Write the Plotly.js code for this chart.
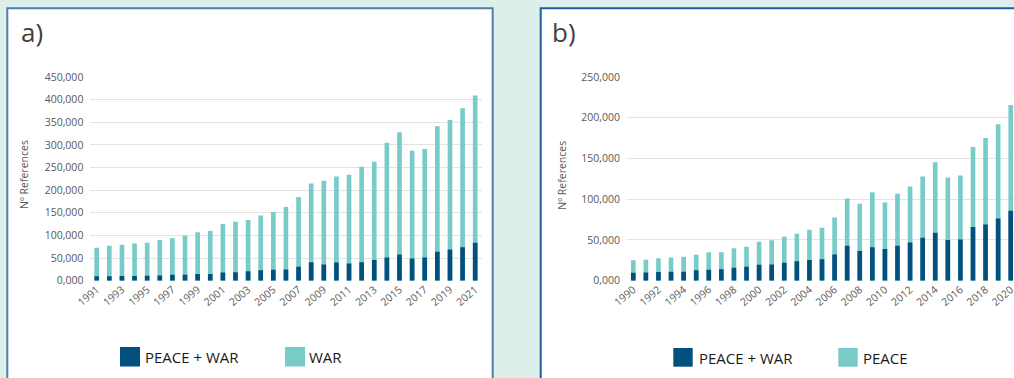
<!DOCTYPE html>
<html>
<head>
<meta charset="utf-8">
<script src="https://cdn.plot.ly/plotly-3.0.1.min.js"></script>
<style>
html,body{margin:0;padding:0;background:#dcefeb;overflow:hidden;}
#chart{width:1014px;height:378px;}
</style>
</head>
<body>
<div id="chart"></div>
<script>
// ---- Panel a) data ----
var yearsA = ["1991","1992","1993","1994","1995","1996","1997","1998","1999","2000","2001","2002","2003","2004","2005","2006","2007","2008","2009","2010","2011","2012","2013","2014","2015","2016","2017","2018","2019","2020","2021"];
var warTotalA = [73000,77000,79500,82000,84000,90000,94000,100000,107000,110000,125000,130000,134000,144000,152000,163000,185000,215000,221000,230000,234000,252000,263000,305000,328000,287000,291000,341000,355000,381000,409000];
var peaceWarA = [10000,10000,10500,10500,11000,11500,13000,13000,15000,15000,18000,18500,21000,23000,24000,25000,31000,41000,36000,40000,38000,41000,46000,51000,58000,49000,51000,64000,69000,74000,84000];
var tickValsA = ["1991","1993","1995","1997","1999","2001","2003","2005","2007","2009","2011","2013","2015","2017","2019","2021"];
var yTickValsA = [0,50000,100000,150000,200000,250000,300000,350000,400000,450000];
var yTickTextA = ["0,000","50,000","100,000","150,000","200,000","250,000","300,000","350,000","400,000","450,000"];

// ---- Panel b) data ----
var yearsB = ["1990","1991","1992","1993","1994","1995","1996","1997","1998","1999","2000","2001","2002","2003","2004","2005","2006","2007","2008","2009","2010","2011","2012","2013","2014","2015","2016","2017","2018","2019","2020"];
var peaceTotalB = [25000,25700,27400,28600,29400,31900,34800,34800,39700,41700,47800,49500,54000,57600,62500,65000,77700,101000,94300,108700,96000,106600,115600,128000,145400,126700,129000,164000,175000,192000,215600];
var peaceWarB = [9800,10200,10700,11000,11000,12700,13500,14000,16000,17000,19600,20000,22000,23800,25400,26200,32300,42900,36400,40900,38800,42900,47000,52700,58800,49900,50700,65800,69000,76400,86000];
var tickValsB = ["1990","1992","1994","1996","1998","2000","2002","2004","2006","2008","2010","2012","2014","2016","2018","2020"];
var yTickValsB = [0,50000,100000,150000,200000,250000];
var yTickTextB = ["0,000","50,000","100,000","150,000","200,000","250,000"];

var legendA = ["PEACE + WAR","WAR"];
var legendB = ["PEACE + WAR","PEACE"];

var DARK = "#03507f";
var TEAL = "#79cbc8";
var W = 1014, H = 378;
function px(x){return x/W;}
function py(y){return 1 - y/H;}

var FONT = "Open Sans, Noto Sans, sans-serif";

var traces = [
  {type:"bar", x:yearsA, y:warTotalA, marker:{color:TEAL}, xaxis:"x", yaxis:"y", name:"WAR", hoverinfo:"x+y"},
  {type:"bar", x:yearsA, y:peaceWarA, marker:{color:DARK}, xaxis:"x", yaxis:"y", name:"PEACE + WAR", hoverinfo:"x+y"},
  {type:"bar", x:yearsB, y:peaceTotalB, marker:{color:TEAL}, xaxis:"x2", yaxis:"y2", name:"PEACE", hoverinfo:"x+y"},
  {type:"bar", x:yearsB, y:peaceWarB, marker:{color:DARK}, xaxis:"x2", yaxis:"y2", name:"PEACE + WAR", hoverinfo:"x+y"}
];

var axisY = {
  gridcolor:"#e3e3e3", gridwidth:1, zeroline:false, showline:false, ticks:"",
  tickfont:{family:FONT, size:10.5, color:"#595959"}, ticklabelstandoff:6, fixedrange:true
};
var axisX = {
  type:"category", showgrid:false, zeroline:false, showline:false, ticks:"",
  tickangle:-40, tickfont:{family:FONT, size:10.5, color:"#595959"}, fixedrange:true
};

var yDom = [py(280.7), py(77)];

var layout = {
  width:W, height:H,
  margin:{l:0,r:0,t:0,b:0},
  paper_bgcolor:"#dcefeb",
  plot_bgcolor:"rgba(0,0,0,0)",
  showlegend:false,
  barmode:"overlay",
  bargap:0.63,
  xaxis: Object.assign({}, axisX, {domain:[px(90.4), px(481.5)], range:[-0.5,30.5], anchor:"y", tickmode:"array", tickvals:tickValsA, ticktext:tickValsA}),
  yaxis: Object.assign({}, axisY, {domain:yDom, range:[0,450000], anchor:"x", tickmode:"array", tickvals:yTickValsA, ticktext:yTickTextA}),
  xaxis2: Object.assign({}, axisX, {domain:[px(627), 1], range:[-0.5,30.26], anchor:"y2", tickmode:"array", tickvals:tickValsB, ticktext:tickValsB}),
  yaxis2: Object.assign({}, axisY, {domain:yDom, range:[0,250000], anchor:"x2", tickmode:"array", tickvals:yTickValsB, ticktext:yTickTextB}),
  shapes:[
    {type:"rect", xref:"paper", yref:"paper", layer:"below", x0:px(7.3), x1:px(492.7), y0:py(390), y1:py(8.3), fillcolor:"#ffffff", line:{color:"#4f80ab", width:2}},
    {type:"rect", xref:"paper", yref:"paper", layer:"below", x0:px(540.7), x1:px(1030), y0:py(390), y1:py(8.3), fillcolor:"#ffffff", line:{color:"#1d5f9c", width:2}},
    // legend swatches
    {type:"rect", xref:"paper", yref:"paper", x0:px(120), x1:px(140), y0:py(366.5), y1:py(347), fillcolor:DARK, line:{width:0}},
    {type:"rect", xref:"paper", yref:"paper", x0:px(285), x1:px(305), y0:py(366.5), y1:py(347), fillcolor:TEAL, line:{width:0}},
    {type:"rect", xref:"paper", yref:"paper", x0:px(673.3), x1:px(692.7), y0:py(366.7), y1:py(348), fillcolor:DARK, line:{width:0}},
    {type:"rect", xref:"paper", yref:"paper", x0:px(838.3), x1:px(857.7), y0:py(366.7), y1:py(348), fillcolor:TEAL, line:{width:0}}
  ],
  annotations:[
    {text:"a)", xref:"paper", yref:"paper", x:px(19), y:py(31.5), xanchor:"left", yanchor:"middle", showarrow:false, font:{family:FONT, size:26, color:"#404040"}},
    {text:"b)", xref:"paper", yref:"paper", x:px(550), y:py(31.5), xanchor:"left", yanchor:"middle", showarrow:false, font:{family:FONT, size:26, color:"#404040"}},
    {text:"Nº References", xref:"paper", yref:"paper", x:px(24), y:py(175), xanchor:"center", yanchor:"middle", textangle:-90, showarrow:false, font:{family:FONT, size:10.5, color:"#595959"}},
    {text:"Nº References", xref:"paper", yref:"paper", x:px(561.7), y:py(175), xanchor:"center", yanchor:"middle", textangle:-90, showarrow:false, font:{family:FONT, size:10.5, color:"#595959"}},
    {text:legendA[0], xref:"paper", yref:"paper", x:px(143), y:py(357), xanchor:"left", yanchor:"middle", showarrow:false, font:{family:FONT, size:15, color:"#1a1a1a"}},
    {text:legendA[1], xref:"paper", yref:"paper", x:px(307), y:py(357), xanchor:"left", yanchor:"middle", showarrow:false, font:{family:FONT, size:15, color:"#1a1a1a"}},
    {text:legendB[0], xref:"paper", yref:"paper", x:px(696.5), y:py(357.5), xanchor:"left", yanchor:"middle", showarrow:false, font:{family:FONT, size:15, color:"#1a1a1a"}},
    {text:legendB[1], xref:"paper", yref:"paper", x:px(860.5), y:py(357.5), xanchor:"left", yanchor:"middle", showarrow:false, font:{family:FONT, size:15, color:"#1a1a1a"}}
  ]
};

Plotly.newPlot("chart", traces, layout, {displayModeBar:false, staticPlot:true});
</script>
</body>
</html>
